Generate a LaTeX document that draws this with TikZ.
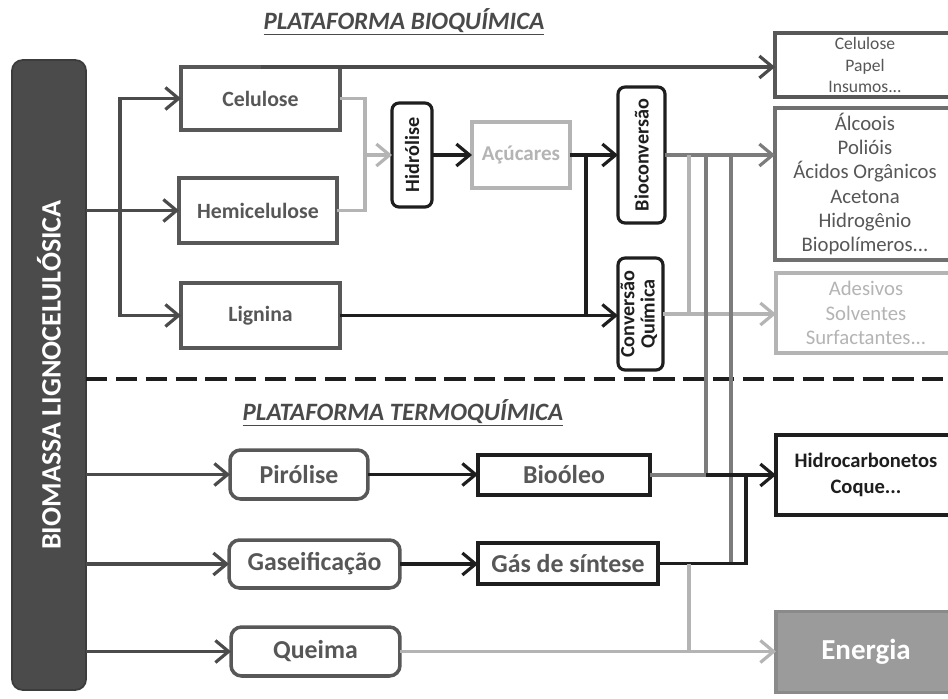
\documentclass[tikz,border=0pt]{standalone}
\usepackage{fontspec}
\setmainfont{Carlito}
\usepackage{graphicx}
\usepackage{xcolor}
\usetikzlibrary{arrows.meta}

\definecolor{darkbox}{HTML}{4B4B4B}
\definecolor{edgegray}{HTML}{585858}
\definecolor{txtgray}{HTML}{575757}
\definecolor{midgray}{HTML}{7C7C7C}
\definecolor{paleline}{HTML}{B4B4B4}
\definecolor{inkblack}{HTML}{1E1E1E}
\definecolor{energyfill}{HTML}{9B9B9B}
\definecolor{energyedge}{HTML}{8A8A8A}
\definecolor{titlegray}{HTML}{4A4A4A}

\begin{document}
\begin{tikzpicture}[
  x=0.02cm, y=-0.02cm,
  every node/.style={inner sep=0pt, outer sep=0pt},
  bigbox/.style={rectangle, rounded corners=6pt, fill=darkbox, draw=darkbox!80!black,
                 line width=1pt, text=white, minimum width=1.48cm, minimum height=12.6cm,
                 font=\bfseries\fontsize{16}{18}\selectfont},
  feedbox/.style={rectangle, draw=edgegray, line width=2pt, text=txtgray,
                  font=\bfseries\fontsize{12.4}{14}\selectfont},
  stagebox/.style={rectangle, rounded corners=4pt, draw=inkblack, line width=1.8pt,
                   text=inkblack, font=\bfseries\fontsize{11.5}{11.5}\selectfont},
  thermobox/.style={rectangle, rounded corners=6pt, draw=edgegray, line width=2pt,
                    text=txtgray, font=\bfseries\fontsize{14.7}{16}\selectfont},
  fuelbox/.style={rectangle, draw=inkblack, line width=2pt, text=txtgray,
                  font=\bfseries\fontsize{14.7}{16}\selectfont},
  outbox/.style={rectangle, line width=2pt, align=center, minimum width=3.6cm},
  platlabel/.style={font=\bfseries\itshape\fontsize{14.2}{16}\selectfont, text=titlegray},
  arr/.style={-{Straight Barb[length=7.5pt,width=12.5pt]}},
  darkline/.style={draw=darkbox, line width=1.8pt},
  blackline/.style={draw=inkblack, line width=1.8pt},
  midline/.style={draw=midgray, line width=1.8pt},
  paleln/.style={draw=paleline, line width=1.8pt},
  divider/.style={draw=inkblack, line width=2.6pt, dash pattern=on 12pt off 5pt},
]
\useasboundingbox (0,0) rectangle (948,698);
\fill[white] (0,0) rectangle (948,698);
\clip (0,0) rectangle (948,698);

% raw material
\node[bigbox] (biomassa) at (49,375) {\rotatebox{90}{BIOMASSA LIGNOCELULÓSICA}};

% biochemical platform
\node[platlabel] (tbio) at (404,22) {\underline{PLATAFORMA BIOQUÍMICA}};
\node[feedbox, minimum width=3.18cm, minimum height=1.26cm] (celul) at (260.5,98.5) {Celulose};
\node[feedbox, minimum width=3.16cm, minimum height=1.3cm] (hemi) at (258,210.5) {Hemicelulose};
\node[feedbox, minimum width=3.18cm, minimum height=1.3cm] (lign) at (260.5,315.5) {Lignina};
\node[stagebox, minimum width=0.8cm, minimum height=2.08cm] (hidrol) at (412,155) {\rotatebox{90}{Hidrólise}};
\node[rectangle, draw=paleline, line width=2pt, text=paleline,
      font=\bfseries\fontsize{12}{14}\selectfont,
      minimum width=1.96cm, minimum height=1.32cm] (acucar) at (521,155) {Açúcares};
\node[stagebox, minimum width=0.94cm, minimum height=2.72cm] (bioconv) at (641.5,155) {\rotatebox{90}{Bioconversão}};
\node[stagebox, minimum width=0.9cm, minimum height=2.24cm] (convq) at (640.5,314)
  {\rotatebox{90}{\begin{tabular}{@{}c@{}}Conversão\\Química\end{tabular}}};

% products
\node[outbox, draw=edgegray, text=txtgray, font=\fontsize{10}{12}\selectfont,
      minimum height=1.28cm] (papel) at (865,65) {Celulose\\Papel\\Insumos...};
\node[outbox, draw=midgray!90!black, text=txtgray, font=\fontsize{11.8}{13.7}\selectfont,
      minimum height=3.04cm] (alcool) at (865,184)
  {Álcoois\\Polióis\\Ácidos Orgânicos\\Acetona\\Hidrogênio\\Biopolímeros...};
\node[outbox, draw=paleline, text=paleline, font=\fontsize{11.8}{14}\selectfont,
      minimum height=1.6cm] (adesivo) at (866,313) {Adesivos\\Solventes\\Surfactantes...};

% thermochemical platform
\node[platlabel] (ttermo) at (403,413) {\underline{PLATAFORMA TERMOQUÍMICA}};
\node[thermobox, minimum width=2.76cm, minimum height=0.98cm] (pirol) at (299,474.5) {Pirólise};
\node[thermobox, minimum width=3.42cm, minimum height=0.96cm] (gasef) at (314.5,564) {Gaseificação};
\node[thermobox, minimum width=3.38cm, minimum height=0.98cm] (queima) at (315.5,651.5) {Queima};
\node[fuelbox, minimum width=3.44cm, minimum height=0.8cm] (bioleo) at (564,475) {Bioóleo};
\node[fuelbox, minimum width=3.6cm, minimum height=0.82cm] (gassin) at (568,563.5) {Gás de síntese};
\node[outbox, draw=inkblack, text=inkblack, font=\bfseries\fontsize{11.7}{14.5}\selectfont,
      minimum height=1.6cm] (hidrocarb) at (866,475) {Hidrocarbonetos\\Coque...};
\node[outbox, fill=energyfill, draw=energyedge, text=white,
      font=\bfseries\fontsize{16.5}{18}\selectfont,
      minimum height=1.62cm] (energia) at (866,652) {Energia};

% divider
\coordinate (divL) at (86,379);
\coordinate (divR) at (948,379);
\draw[divider] (divL) -- (divR);

% fractions
\coordinate (fork) at (120,210.5);
\draw[darkline, arr] (biomassa.east |- hemi) -- (hemi.west);
\draw[darkline, arr] (fork) |- (celul.west);
\draw[darkline, arr] (fork) |- (lign.west);
\draw[darkline, arr] (celul.north) -- (celul.north -| papel.west);

% hydrolysis route
\coordinate (hydjoin) at (365,155);
\draw[paleln] (celul.east) -| (hydjoin) |- (hemi.east);
\draw[paleln, arr] (hydjoin) -- (hidrol.west);
\draw[blackline, arr] (hidrol) -- (acucar);
\draw[blackline, arr] (acucar) -- (bioconv);
\coordinate (sugfork) at (586,155);
\draw[blackline] (sugfork) -- (sugfork |- lign);
\draw[blackline, arr] (lign.east) -- (lign.east -| convq.west);
\draw[midline, arr] (bioconv.east) -- (bioconv.east -| alcool.west);
\draw[paleln, arr] (convq.east) -- (convq.east -| adesivo.west);

% cross links
\coordinate (colA) at (689,155);
\coordinate (colB) at (706,155);
\coordinate (colC) at (731,155);
\draw[paleln] (colA) -- (colA |- convq);
\draw[midline] (colB) -- (colB |- bioleo);
\draw[midline] (colC) -- (colC |- gassin);

% thermochemical routes
\draw[darkline, arr] (biomassa.east |- pirol) -- (pirol.west);
\draw[darkline, arr] (biomassa.east |- gasef) -- (gasef.west);
\draw[darkline, arr] (biomassa.east |- queima) -- (queima.west);
\draw[blackline, arr] (pirol) -- (pirol -| bioleo.west);
\draw[blackline, arr] (gasef) -- (gasef -| gassin.west);
\draw[midline] (bioleo.east) -- (colB |- bioleo);
\draw[blackline, arr] (colB |- bioleo) -- (hidrocarb.west);
\coordinate (gasup) at (746,563.5);
\draw[blackline] (gassin.east) -- (gasup) -- (gasup |- hidrocarb);
\coordinate (enfork) at (689,563.5);
\draw[paleln] (enfork) -- (enfork |- queima);
\draw[paleln, arr] (queima) -- (queima -| energia.west);
\end{tikzpicture}
\end{document}
